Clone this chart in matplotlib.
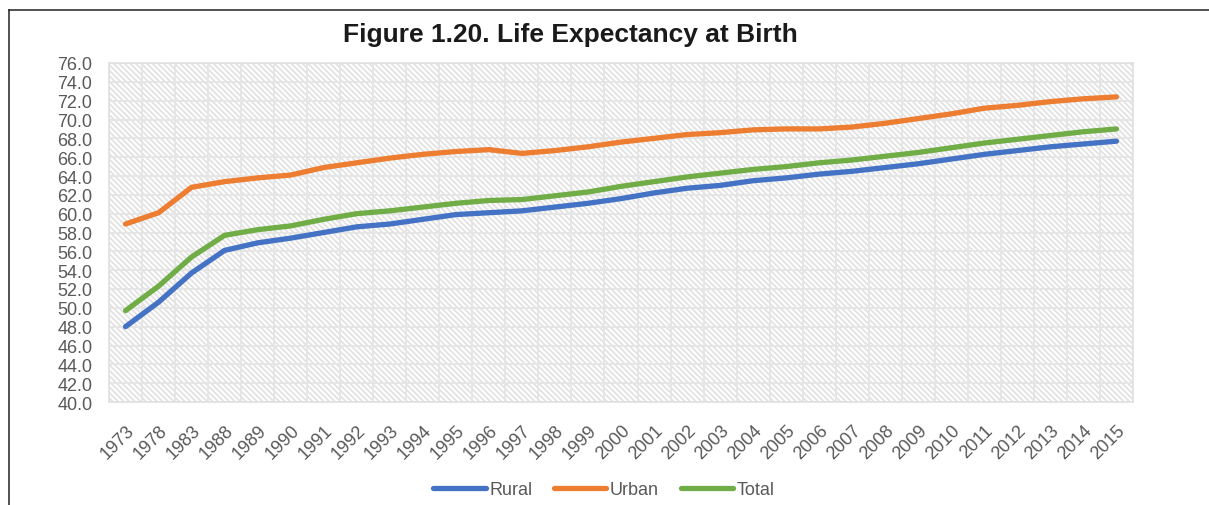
import numpy as np
import matplotlib
matplotlib.use("Agg")
import matplotlib.pyplot as plt
from matplotlib.patches import Rectangle
from matplotlib.lines import Line2D

plt.rcParams['font.family'] = ['Liberation Sans', 'DejaVu Sans']
plt.rcParams['hatch.linewidth'] = 1.3

years = ["1973", "1978", "1983", "1988", "1989", "1990", "1991", "1992", "1993", "1994",
         "1995", "1996", "1997", "1998", "1999", "2000", "2001", "2002", "2003", "2004",
         "2005", "2006", "2007", "2008", "2009", "2010", "2011", "2012", "2013", "2014", "2015"]

rural = [48.0, 50.6, 53.7, 56.1, 56.9, 57.4, 58.0, 58.6, 58.9, 59.4,
         59.9, 60.1, 60.3, 60.7, 61.1, 61.6, 62.2, 62.7, 63.0, 63.5,
         63.8, 64.2, 64.5, 64.9, 65.3, 65.8, 66.3, 66.7, 67.1, 67.4, 67.7]
urban = [58.9, 60.1, 62.8, 63.4, 63.8, 64.1, 64.9, 65.4, 65.9, 66.3,
         66.6, 66.8, 66.4, 66.7, 67.1, 67.6, 68.0, 68.4, 68.6, 68.9,
         69.0, 69.0, 69.2, 69.6, 70.1, 70.6, 71.2, 71.5, 71.9, 72.2, 72.4]
total = [49.7, 52.3, 55.4, 57.7, 58.3, 58.7, 59.4, 60.0, 60.3, 60.7,
         61.1, 61.4, 61.5, 61.9, 62.3, 62.9, 63.4, 63.9, 64.3, 64.7,
         65.0, 65.4, 65.7, 66.1, 66.5, 67.0, 67.5, 67.9, 68.3, 68.7, 69.0]

series = [("Rural", rural, "#4472C4"), ("Urban", urban, "#ED7D31"), ("Total", total, "#70AD47")]

W, H = 1209, 506
fig = plt.figure(figsize=(W / 100, H / 100), dpi=100)
ax = fig.add_axes([109 / W, 1 - 403 / H, (1133 - 109) / W, (403 - 64) / H])

x = np.arange(len(years))

# hatched background
ax.add_patch(Rectangle((0, 0), 1, 1, transform=ax.transAxes, facecolor='white',
                       edgecolor='#e2e2e2', hatch='\\' * 6, lw=0, zorder=0))

for name, vals, col in series:
    ax.plot(x, vals, color=col, lw=3.8, label=name, solid_capstyle='round',
            solid_joinstyle='round', zorder=3)

ax.set_xlim(-0.5, len(years) - 0.5)
ax.set_ylim(40, 76)
ax.set_yticks(np.arange(40, 76.1, 2))
ax.set_yticklabels([f"{v:.1f}" for v in np.arange(40, 76.1, 2)])
ax.set_xticks(x)
ax.set_xticklabels(years, rotation=45, ha='right', rotation_mode='anchor')
ax.set_xticks(np.arange(-0.5, len(years), 0.5), minor=True)

ax.grid(axis='y', which='major', color='#e6e6e6', lw=1.4, zorder=1)
ax.grid(axis='x', which='minor', color='#e6e6e6', lw=1.4, zorder=1)
ax.set_axisbelow(True)

ax.tick_params(axis='both', which='both', length=0, labelsize=13, labelcolor='#595959')
ax.tick_params(axis='y', pad=12)
ax.tick_params(axis='x', pad=14)

for sp in ax.spines.values():
    sp.set_color('#e0e0e0')
    sp.set_linewidth(1.2)

fig.text(570 / W, 1 - 35 / H, "Figure 1.20. Life Expectancy at Birth", ha='center', va='center',
         fontsize=19, fontweight='bold', color='#1a1a1a')

# frame lines
fig.add_artist(Line2D([9 / W, 9 / W], [0, 1 - 11 / H], transform=fig.transFigure, color='#222222', lw=1.1))
fig.add_artist(Line2D([9 / W, 1], [1 - 11 / H, 1 - 11 / H], transform=fig.transFigure, color='#222222', lw=1.1))

fig.legend(loc='center', bbox_to_anchor=(604 / W, 1 - 491 / H), ncol=3, frameon=False,
           fontsize=13, handlelength=2.9, handletextpad=0.2, columnspacing=1.2,
           labelcolor='#595959')

fig.savefig("out.png", dpi=100)
